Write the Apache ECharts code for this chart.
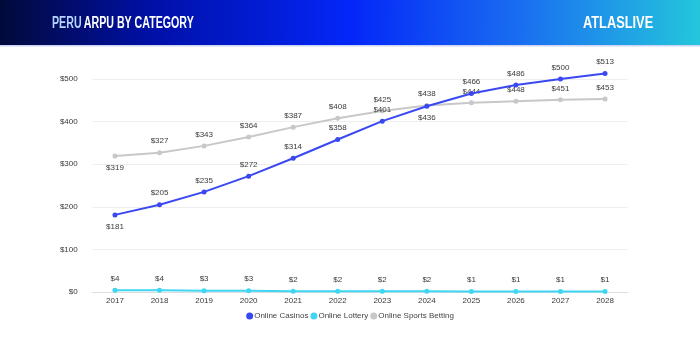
<!DOCTYPE html>
<html><head><meta charset="utf-8">
<script src="https://cdn.jsdelivr.net/npm/echarts@6/dist/echarts.min.js"></script>
<style>html,body{margin:0;padding:0;background:#fff}#c{width:700px;height:350px}</style>
</head><body><div id="c"></div>
<script>
const years = ['2017','2018','2019','2020','2021','2022','2023','2024','2025','2026','2027','2028'];
const casinos = [181,205,235,272,314,358,401,436,466,486,500,513];
const lottery = [4,4,3,3,2,2,2,2,1,1,1,1];
const sports = [319,327,343,364,387,408,425,438,444,448,451,453];
const casinoBelow = ['2017','2024'];
const sportsBelow = ['2017'];

const chart = echarts.init(document.getElementById('c'));
const font = 'Liberation Sans, Arial, sans-serif';
function mk(vals, below){
  return vals.map((v,i)=> below.includes(years[i]) ? {value:v,label:{position:'bottom'}} : v);
}
const lbl = {show:true,position:'top',formatter:'${c}',fontSize:8,color:'#3a3a3a',distance:5};
chart.setOption({
  animation:false,
  textStyle:{fontFamily:font},
  graphic:[
    {type:'rect',left:0,top:0,shape:{width:700,height:45},style:{fill:new echarts.graphic.LinearGradient(0,0,1,0.3,[
      {offset:0,color:'#020a3a'},{offset:0.22,color:'#0010a8'},{offset:0.5,color:'#0426f8'},{offset:0.75,color:'#1a70f0'},{offset:1,color:'#24c6dc'}])},z:0},
    {type:'rect',left:0,top:45,shape:{width:700,height:1.5},style:{fill:'#cdd3f2'},z:0},
    {type:'text',x:52,y:23.5,scaleX:0.665,z:2,style:{text:'{a|PERU} {b|ARPU BY CATEGORY}',verticalAlign:'middle',rich:{
      a:{fill:'#b8d4ff',fontFamily:font,fontWeight:'bold',fontSize:16},
      b:{fill:'#ffffff',fontFamily:font,fontWeight:'bold',fontSize:16}}}},
    {type:'text',x:583,y:24,scaleX:0.8,z:2,style:{text:'ATLASLIVE',verticalAlign:'middle',fill:'#ffffff',fontFamily:font,fontWeight:'bold',fontSize:16}}
  ],
  grid:{left:92.7,right:72.7,top:79,bottom:58},
  legend:{top:307,left:'center',itemWidth:7,itemHeight:7,itemGap:2,icon:'circle',
    textStyle:{fontSize:8,color:'#444',padding:[0,0,0,-4]},
    data:['Online Casinos','Online Lottery','Online Sports Betting']},
  xAxis:{type:'category',data:years,boundaryGap:true,
    axisLine:{lineStyle:{color:'#ddd'}},axisTick:{show:false},
    axisLabel:{fontSize:8,color:'#3a3a3a',margin:5}},
  yAxis:{type:'value',min:0,max:500,interval:100,
    axisLabel:{formatter:'${value}',fontSize:8,color:'#3a3a3a',margin:15},
    splitLine:{lineStyle:{color:'#eeeeee'}},axisLine:{show:false},axisTick:{show:false}},
  series:[
    {name:'Online Casinos',type:'line',data:mk(casinos,casinoBelow),color:'#3a48f2',symbol:'circle',symbolSize:5,clip:false,
      lineStyle:{width:2},label:lbl,z:3},
    {name:'Online Lottery',type:'line',data:lottery,color:'#3ed6f2',symbol:'circle',symbolSize:5,clip:false,
      lineStyle:{width:2},label:lbl},
    {name:'Online Sports Betting',type:'line',data:mk(sports,sportsBelow),color:'#c8c8c8',symbol:'circle',symbolSize:5,clip:false,
      lineStyle:{width:2},label:lbl,z:2}
  ]
});
</script></body></html>
